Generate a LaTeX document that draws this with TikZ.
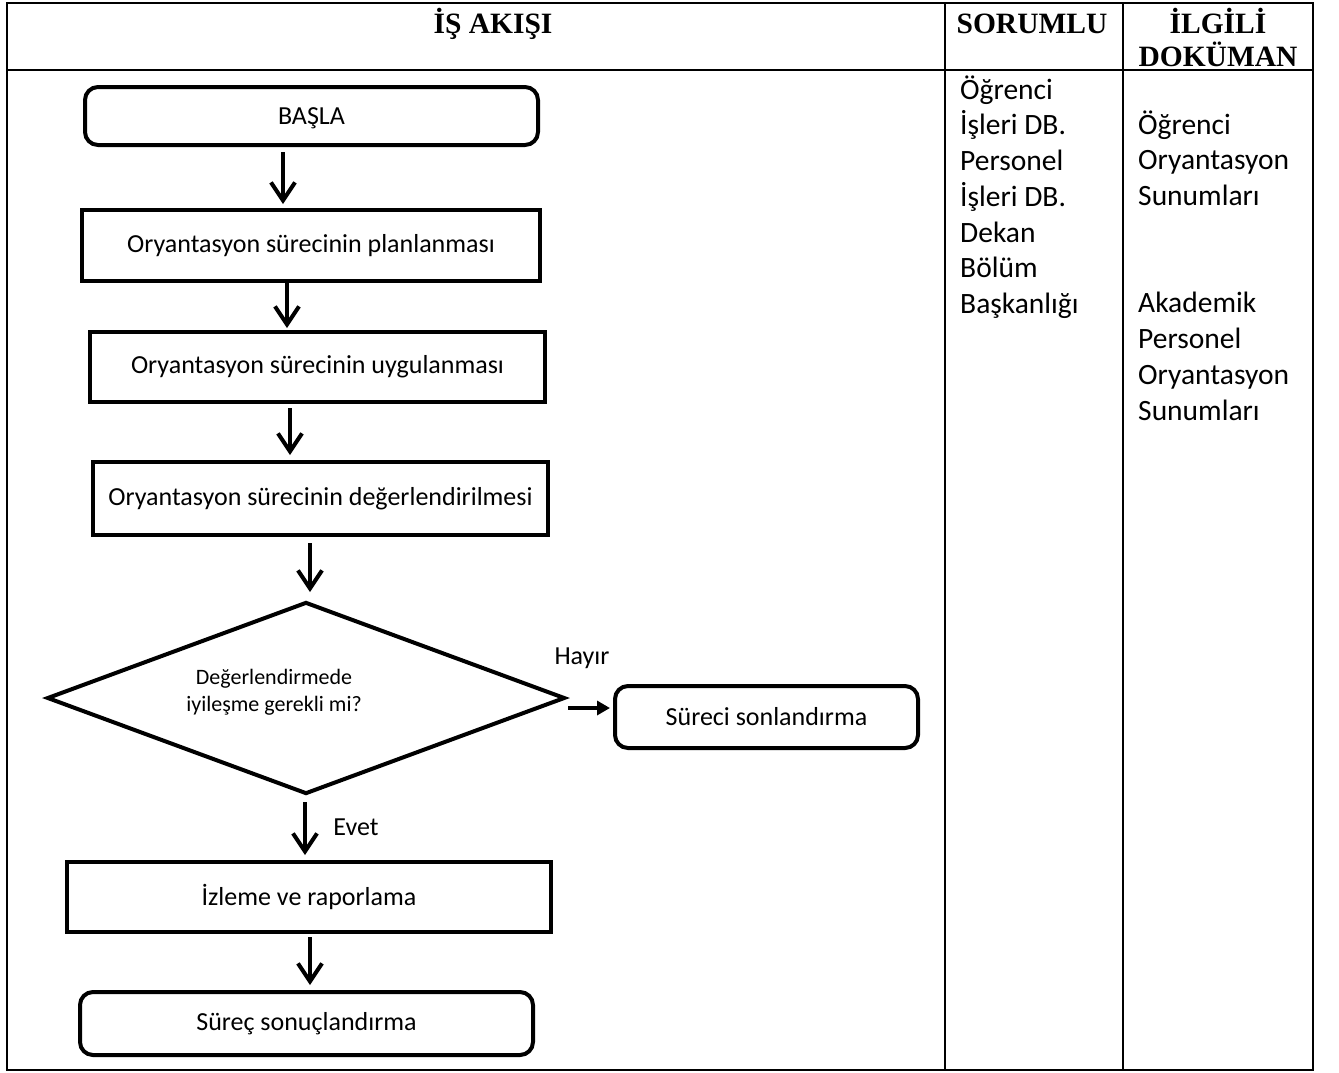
\documentclass[tikz,border=0pt]{standalone}
\usepackage{fontspec}
\setmainfont{Carlito}
\newfontfamily\headfont{Liberation Serif}
\usetikzlibrary{shapes.geometric,arrows.meta}

\tikzset{
  procbox/.style={draw, line width=4pt, rectangle, inner sep=0pt, font=\fontsize{26}{32}\selectfont},
  termbox/.style={procbox, rounded corners=13pt},
  decbox/.style={draw, line width=4pt, diamond, inner sep=0pt},
  dectxt/.style={align=center, inner sep=0pt, font=\fontsize{22}{27}\selectfont},
  flow/.style={line width=4pt, -{Straight Barb[length=18pt,width=24pt]}},
  flowfill/.style={line width=4pt, -{Triangle[length=13pt,width=14pt]}},
  lbl/.style={font=\fontsize{26}{32}\selectfont, inner sep=0pt},
  headtxt/.style={font=\headfont\bfseries\fontsize{29.5}{33}\selectfont, inner sep=0pt},
  coltxt/.style={font=\fontsize{29.5}{35.75}\selectfont, inner sep=0pt, anchor=base west},
  grid/.style={line width=2.5pt}
}

\begin{document}
\begin{tikzpicture}[x=1pt, y=-1pt]
    \useasboundingbox (0,0) rectangle (1339,1072);

    % table frame
    \draw[grid] (7,3) rectangle (1313,1070);
    \draw[grid] (7,70) -- (1313,70);
    \draw[grid] (945,3) -- (945,1070);
    \draw[grid] (1123,3) -- (1123,1070);

    % headers
    \node[headtxt, anchor=base] (flowhd) at (493,33) {İŞ AKIŞI};
    \node[headtxt, anchor=base] (whohd) at (1032,33) {SORUMLU};
    \node[headtxt, anchor=base] (dochd) at (1218,33) {\parbox[t]{180pt}{\centering İLGİLİ\\DOKÜMAN}};

    % flow
    \node[termbox, minimum width=453pt, minimum height=58pt, text depth=0pt] (start) at (311.5,116) {BAŞLA};
    \node[procbox, minimum width=458pt, minimum height=71pt] (plan) at (311,245.5) {Oryantasyon sürecinin planlanması};
    \node[procbox, minimum width=455pt, minimum height=70pt] (apply) at (317.5,367) {Oryantasyon sürecinin uygulanması};
    \node[procbox, minimum width=455pt, minimum height=73pt] (eval) at (320.5,498.5) {Oryantasyon sürecinin değerlendirilmesi};
    \node[decbox, minimum width=518pt, minimum height=192pt] (dec) at (306,698) {};
    \node[dectxt] (dectext) at (274,692) {Değerlendirmede\\iyileşme gerekli mi?};
    \node[termbox, minimum width=303pt, minimum height=62pt] (stop) at (766.5,717) {Süreci sonlandırma};
    \node[procbox, minimum width=484pt, minimum height=70pt] (watch) at (309,897) {İzleme ve raporlama};
    \node[termbox, minimum width=453pt, minimum height=63pt] (finish) at (306.5,1023.5) {Süreç sonuçlandırma};

    \node[lbl] (no) at (582,658) {Hayır};
    \node[lbl] (yes) at (356,827) {Evet};

    \draw[flow, shorten <=5pt, shorten >=4pt] ([xshift=-28.5pt]start.south) -- ([xshift=-28.5pt]start.south |- plan.north);
    \draw[flow, shorten >=2pt] ([xshift=-24pt]plan.south) -- ([xshift=-24pt]plan.south |- apply.north);
    \draw[flow, shorten <=4pt, shorten >=5pt] ([xshift=-27.5pt]apply.south) -- ([xshift=-27.5pt]apply.south |- eval.north);
    \draw[flow, shorten <=6pt, shorten >=8pt] ([xshift=-10.5pt]eval.south) -- ([xshift=-10.5pt]eval.south |- dec.north);
    \draw[flow, shorten <=6pt, shorten >=5pt] ([xshift=-1pt]dec.south) -- ([xshift=-1pt]dec.south |- watch.north);
    \draw[flow, shorten <=3pt, shorten >=5pt] ([xshift=1pt]watch.south) -- ([xshift=1pt]watch.south |- finish.north);

    \coordinate (nostart) at (568,708);
    \draw[flowfill, shorten >=3pt] (nostart) -- (nostart -| stop.west);

    % columns
    \node[coltxt] (who) at (960,99) {\parbox[t]{160pt}{Öğrenci\\İşleri DB.\\Personel\\İşleri DB.\\Dekan\\Bölüm\\Başkanlığı}};
    \node[coltxt] (docs) at (1138,134) {\parbox[t]{170pt}{Öğrenci\\Oryantasyon\\Sunumları\\[2\baselineskip]Akademik\\Personel\\Oryantasyon\\Sunumları}};

\end{tikzpicture}
\end{document}
